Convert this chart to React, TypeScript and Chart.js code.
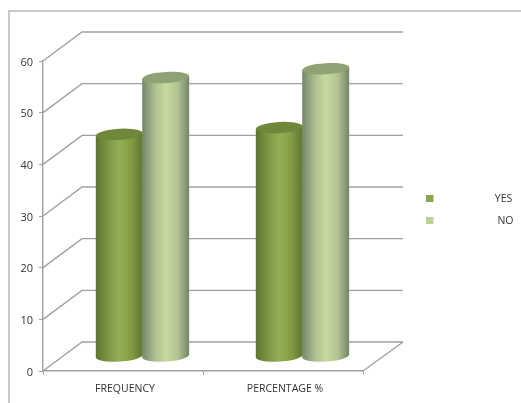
import React, { useEffect, useRef } from "react";
import { Chart, registerables } from "chart.js";

Chart.register(...registerables);

const categories = ["FREQUENCY", "PERCENTAGE %"];
const yesValues = [43, 44.3];
const noValues = [54, 55.7];
const seriesNames = ["YES", "NO"];
const yTicks = [0, 10, 20, 30, 40, 50, 60];

const FONT = '"Open Sans", sans-serif';
const INK = "#333333";
const LINE = "#a0a0a0";
const DEPTH_X = 39;
const DEPTH_Y = 29;
const TILT = -0.06;
const RY = 5.6;

const palettes = [
  { legend: "#8aa64e", top: "#6f8739", stops: ["#5d7430", "#7f9844", "#94ae57", "#839c44", "#5f7631"] },
  { legend: "#bcd095", top: "#8fa274", stops: ["#76866a", "#aec091", "#c5d99f", "#b2c592", "#75846a"] },
];
const stopAt = [0, 0.28, 0.5, 0.75, 1];

// Paints the walls and floor of the 3D box behind the bars.
const boxPlugin = {
  id: "box",
  beforeDatasetsDraw(chart: any) {
    const { ctx, scales, chartArea } = chart;
    ctx.save();
    ctx.strokeStyle = "#b8b8b8";
    ctx.lineWidth = 1.5;
    ctx.beginPath();
    ctx.moveTo(9, 403);
    ctx.lineTo(9, 11);
    ctx.lineTo(521, 11);
    ctx.stroke();
    ctx.strokeStyle = LINE;
    ctx.lineWidth = 1.4;
    for (const v of yTicks) {
      const y = scales.y.getPixelForValue(v);
      ctx.beginPath();
      ctx.moveTo(chartArea.left, y);
      ctx.lineTo(chartArea.left + DEPTH_X, y - DEPTH_Y);
      ctx.lineTo(chartArea.right + DEPTH_X + 1, y - DEPTH_Y);
      ctx.stroke();
    }
    ctx.beginPath();
    ctx.moveTo(chartArea.right, chartArea.bottom);
    ctx.lineTo(chartArea.right + DEPTH_X + 1, chartArea.bottom - DEPTH_Y);
    ctx.stroke();
    ctx.restore();
  },
};

// Turns each bar element into a cylinder standing halfway into the box.
const cylinderPlugin = {
  id: "cylinders",
  afterDatasetsDraw(chart: any) {
    const { ctx } = chart;
    const shiftX = DEPTH_X / 2;
    const shiftY = DEPTH_Y / 2;
    chart.data.labels.forEach((_: string, index: number) => {
      chart.data.datasets.forEach((_d: any, dsIndex: number) => {
        const bar = chart.getDatasetMeta(dsIndex).data[index];
        const pal = palettes[dsIndex];
        const cx = bar.x + shiftX;
        const rx = bar.width / 2 + 0.3;
        const top = bar.y - shiftY;
        const bottom = bar.base - shiftY;
        const dy = Math.sin(TILT) * rx;
        const grad = ctx.createLinearGradient(cx - rx, 0, cx + rx, 0);
        pal.stops.forEach((c, i) => grad.addColorStop(stopAt[i], c));
        ctx.save();
        ctx.fillStyle = grad;
        ctx.beginPath();
        ctx.moveTo(cx - rx, top - dy);
        ctx.lineTo(cx - rx, bottom - dy);
        ctx.ellipse(cx, bottom, rx, RY, TILT, Math.PI, 0, true);
        ctx.lineTo(cx + rx, top + dy);
        ctx.closePath();
        ctx.fill();
        ctx.fillStyle = pal.top;
        ctx.beginPath();
        ctx.ellipse(cx, top, rx, RY, TILT, 0, Math.PI * 2);
        ctx.fill();
        ctx.restore();
      });
    });
  },
};

// Small square keys on the left, series names set far to their right.
const keyPlugin = {
  id: "keys",
  afterDraw(chart: any) {
    const { ctx } = chart;
    const rows = [
      { y: 198.5, textX: 503.5 },
      { y: 220.5, textX: 505.5 },
    ];
    ctx.save();
    ctx.font = `10.5px ${FONT}`;
    ctx.textAlign = "center";
    ctx.textBaseline = "middle";
    chart.data.datasets.forEach((d: any, i: number) => {
      ctx.fillStyle = palettes[i].legend;
      ctx.fillRect(426, rows[i].y - 3.5, 7.5, 7);
      ctx.fillStyle = INK;
      ctx.fillText(d.label, rows[i].textX, rows[i].y + 1);
    });
    ctx.restore();
  },
};

export default function App() {
  const ref = useRef<HTMLCanvasElement | null>(null);

  useEffect(() => {
    document.body.style.margin = "0";
    const chart = new Chart(ref.current as HTMLCanvasElement, {
      type: "bar",
      data: {
        labels: categories,
        datasets: [
          { label: seriesNames[0], data: yesValues, backgroundColor: "transparent" },
          { label: seriesNames[1], data: noValues, backgroundColor: "transparent" },
        ],
      },
      options: {
        responsive: false,
        animation: false,
        layout: { padding: { left: 0, top: 61, right: 158, bottom: 0 } },
        datasets: { bar: { categoryPercentage: 0.58, barPercentage: 1 } },
        plugins: { legend: { display: false }, title: { display: false }, tooltip: { enabled: false } },
        scales: {
          x: {
            afterFit(scale: any) {
              scale.height = 32;
            },
            grid: { drawOnChartArea: false, drawTicks: true, tickLength: 4, color: LINE },
            border: { color: LINE, width: 1.4 },
            ticks: { color: INK, font: { family: FONT, size: 10.5 }, padding: 8, maxRotation: 0, labelOffset: 2 },
          },
          y: {
            min: 0,
            max: 60,
            afterFit(scale: any) {
              scale.width = 43;
            },
            grid: { drawOnChartArea: false, drawTicks: true, tickLength: 4, color: LINE },
            border: { color: LINE, width: 1.4 },
            ticks: { color: INK, stepSize: 10, font: { family: FONT, size: 11 }, padding: 6, labelOffset: 1.5 },
          },
        },
      } as any,
      plugins: [boxPlugin, cylinderPlugin, keyPlugin],
    });
    return () => chart.destroy();
  }, []);

  return <canvas ref={ref} width={521} height={403} style={{ display: "block" }} />;
}
